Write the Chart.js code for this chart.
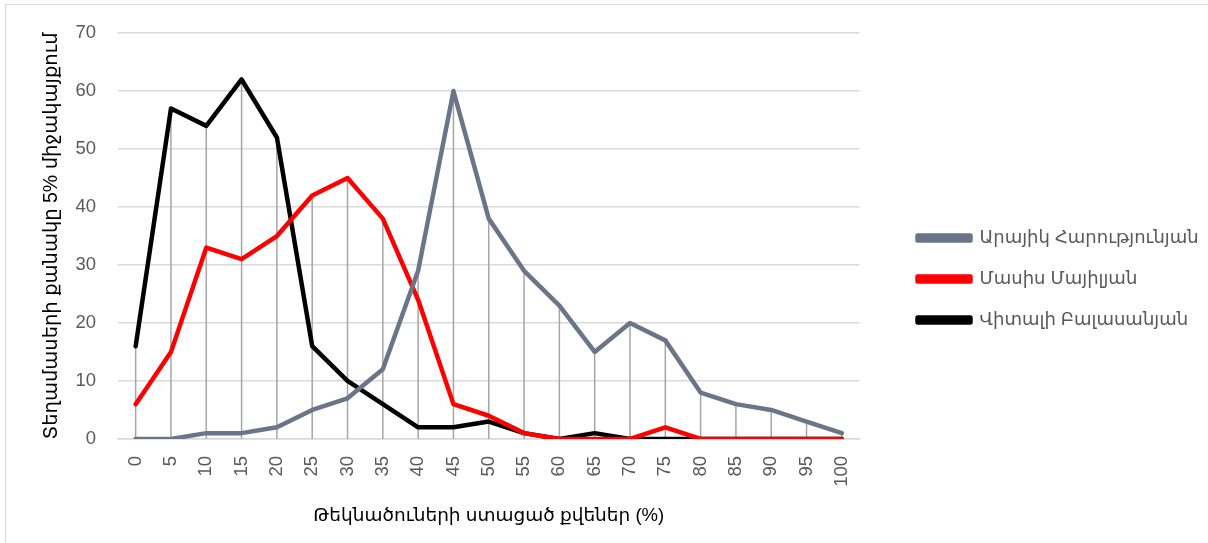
<!DOCTYPE html>
<html>
<head>
<meta charset="utf-8">
<script src="https://cdn.jsdelivr.net/npm/chart.js@4.4.0/dist/chart.umd.min.js"></script>
<style>
  body { margin: 0; background: #fff; }
  #wrap { position: relative; width: 1208px; height: 543px; }
  #frame { position: absolute; left: 5px; top: 4px; width: 1210px; height: 560px; border: 1px solid #d9d9d9; box-sizing: border-box; pointer-events: none; }
</style>
</head>
<body>
<div id="wrap">
  <canvas id="votes" width="1208" height="543"></canvas>
  <div id="frame"></div>
</div>
<script>
const labels = ['0','5','10','15','20','25','30','35','40','45','50','55','60','65','70','75','80','85','90','95','100'];

const araykValues  = [0, 0, 1, 1, 2, 5, 7, 12, 29, 60, 38, 29, 23, 15, 20, 17, 8, 6, 5, 3, 1];
const masisValues  = [6, 15, 33, 31, 35, 42, 45, 38, 24, 6, 4, 1, 0, 0, 0, 2, 0, 0, 0, 0, 0];
const vitaliValues = [16, 57, 54, 62, 52, 16, 10, 6, 2, 2, 3, 1, 0, 1, 0, 0, 0, 0, 0, 0, 0];

const seriesNames = ['Արայիկ Հարությունյան', 'Մասիս Մայիլյան', 'Վիտալի Բալասանյան'];
const yTitle = 'Տեղամասերի քանակը 5% միջակայքում';
const xTitle = 'Թեկնածուների ստացած քվեներ (%)';

const fontFamily = '"Liberation Sans", "DejaVu Sans", sans-serif';

// vertical drop lines from the highest point down to the axis
const dropLines = {
  id: 'dropLines',
  beforeDatasetsDraw(chart) {
    const ctx = chart.ctx;
    const x = chart.scales.x, y = chart.scales.y;
    ctx.save();
    ctx.strokeStyle = '#a6a6a6';
    ctx.lineWidth = 1.5;
    labels.forEach((lab, i) => {
      const top = Math.max(araykValues[i], masisValues[i], vitaliValues[i]);
      const px = x.getPixelForValue(i);
      ctx.beginPath();
      ctx.moveTo(px, y.getPixelForValue(top));
      ctx.lineTo(px, y.getPixelForValue(0));
      ctx.stroke();
    });
    ctx.restore();
  }
};

// leave a gap between the plot and the legend on the right
const legendGap = {
  id: 'legendGap',
  beforeLayout(chart) {
    const lg = chart.legend;
    if (lg && !lg._gapPatched) {
      const fit = lg.fit.bind(lg);
      lg.fit = function () { fit(); this.width += 48; };
      lg._gapPatched = true;
    }
  },
  afterLayout(chart) {
    const lg = chart.legend;
    if (!lg) return;
    lg.left += 35;
    lg.top -= 3;
    lg.bottom -= 3;
  }
};

const ctx = document.getElementById('votes');
new Chart(ctx, {
  type: 'line',
  data: {
    labels: labels,
    datasets: [
      { label: seriesNames[0], data: araykValues, borderColor: '#6a7588', backgroundColor: '#6a7588' },
      { label: seriesNames[1], data: masisValues, borderColor: '#ff0000', backgroundColor: '#ff0000' },
      { label: seriesNames[2], data: vitaliValues, borderColor: '#000000', backgroundColor: '#000000' }
    ]
  },
  options: {
    responsive: false,
    animation: false,
    layout: { padding: { left: 36, top: 33, right: 10, bottom: 12 } },
    elements: {
      line: { borderWidth: 4.5, tension: 0, borderJoinStyle: 'round', borderCapStyle: 'round' },
      point: { radius: 0 }
    },
    plugins: {
      tooltip: { enabled: false },
      legend: {
        position: 'right',
        align: 'center',
        labels: {
          boxWidth: 53,
          boxHeight: 5,
          padding: 23,
          color: '#595959',
          font: { family: fontFamily, size: 18 }
        }
      }
    },
    scales: {
      x: {
        offset: true,
        grid: { display: false, drawTicks: false },
        border: { color: '#d9d9d9', width: 1.5 },
        ticks: {
          color: '#595959',
          font: { family: fontFamily, size: 18.5 },
          minRotation: 90,
          maxRotation: 90,
          padding: 17
        },
        title: {
          display: true,
          text: xTitle,
          color: '#000',
          font: { family: fontFamily, size: 18.5 },
          padding: { top: 1, bottom: 4 }
        }
      },
      y: {
        min: 0,
        max: 70,
        afterFit(scale) { scale.width = 82; },
        ticks: {
          stepSize: 10,
          color: '#595959',
          font: { family: fontFamily, size: 18.5 },
          padding: 22
        },
        grid: { color: '#d9d9d9', lineWidth: 1.5, drawTicks: false },
        border: { display: false },
        title: {
          display: true,
          text: yTitle,
          color: '#000',
          font: { family: fontFamily, size: 19.5 },
          padding: { top: 4, bottom: 0 }
        }
      }
    }
  },
  plugins: [dropLines, legendGap]
});
</script>
</body>
</html>
